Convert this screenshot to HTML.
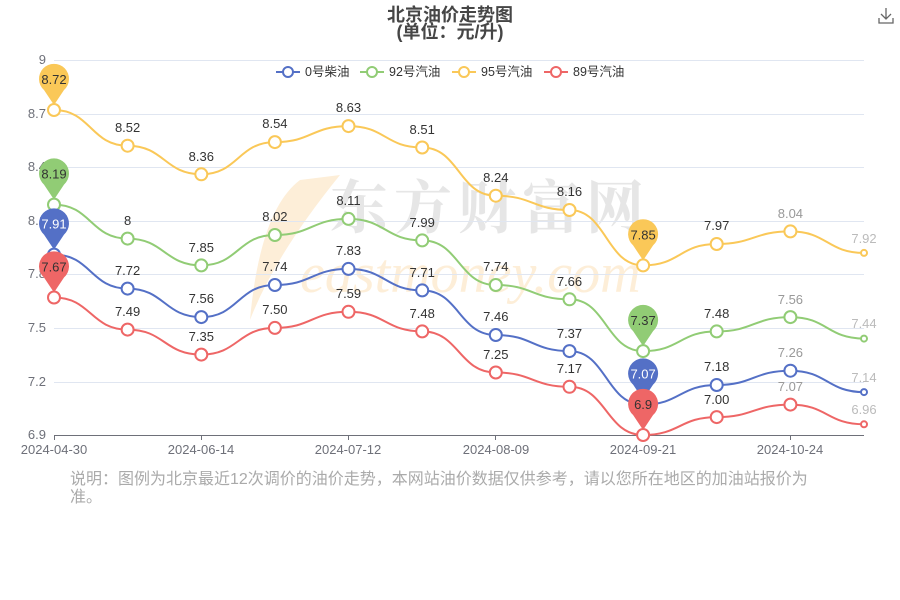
<!DOCTYPE html>
<html><head><meta charset="utf-8"><style>
html,body{margin:0;padding:0;background:#fff;}
svg{display:block;font-family:"Liberation Sans","Noto Sans CJK SC",sans-serif;}
</style></head><body>
<svg width="900" height="600" viewBox="0 0 900 600">
<!-- watermark -->
<text x="330" y="228" font-size="58" fill="#e6e6e6" font-weight="bold" font-family="'Noto Serif CJK SC',serif" letter-spacing="6">东方财富网</text>
<text x="300" y="292" font-size="56" fill="#fdeed8" font-style="italic" font-family="'Liberation Serif',serif">eastmoney.com</text>
<path d="M300,180 Q260,210 250,320 Q275,255 340,175 Z" fill="#fdeed8"/>

<text x="450" y="21" text-anchor="middle" font-size="18" font-weight="bold" fill="#464646">北京油价走势图</text>
<text x="450" y="38" text-anchor="middle" font-size="18" font-weight="bold" fill="#464646">(单位：元/升)</text>
<!-- download icon -->
<g stroke="#666" stroke-width="1.3" fill="none"><path d="M886,8 V19 M881,14 L886,19 L891,14 M879,18 V23 H893 V18"/></g>

<!-- grid -->
<g stroke="#e0e6f1" stroke-width="1">
<line x1="54" y1="60.5" x2="864" y2="60.5"/><line x1="54" y1="114.5" x2="864" y2="114.5"/>
<line x1="54" y1="167.5" x2="864" y2="167.5"/><line x1="54" y1="221.5" x2="864" y2="221.5"/>
<line x1="54" y1="274.5" x2="864" y2="274.5"/><line x1="54" y1="328.5" x2="864" y2="328.5"/>
<line x1="54" y1="382.5" x2="864" y2="382.5"/>
</g>
<line x1="54" y1="435.5" x2="864" y2="435.5" stroke="#6e7079"/>
<g stroke="#6e7079"><line x1="54.5" y1="435" x2="54.5" y2="440"/><line x1="201.5" y1="435" x2="201.5" y2="440"/><line x1="348.5" y1="435" x2="348.5" y2="440"/><line x1="495.5" y1="435" x2="495.5" y2="440"/><line x1="643.5" y1="435" x2="643.5" y2="440"/><line x1="790.5" y1="435" x2="790.5" y2="440"/></g>
<g font-size="13" fill="#6e7079" text-anchor="end">
<text x="46" y="64">9</text><text x="46" y="118">8.7</text><text x="46" y="171">8.4</text><text x="46" y="225">8.1</text><text x="46" y="278">7.8</text><text x="46" y="332">7.5</text><text x="46" y="386">7.2</text><text x="46" y="439">6.9</text>
</g>
<g font-size="13" fill="#6e7079" text-anchor="middle">
<text x="54" y="454">2024-04-30</text><text x="201" y="454">2024-06-14</text><text x="348" y="454">2024-07-12</text><text x="496" y="454">2024-08-09</text><text x="643" y="454">2024-09-21</text><text x="790" y="454">2024-10-24</text>
</g>

<!-- legend -->
<g font-size="12.5" fill="#333" stroke-width="2">
<line x1="276" y1="72" x2="300" y2="72" stroke="#5470c6"/><circle cx="288" cy="72" r="5" fill="#fff" stroke="#5470c6"/><text x="305" y="76" stroke="none">0号柴油</text>
<line x1="360" y1="72" x2="384" y2="72" stroke="#91cc75"/><circle cx="372" cy="72" r="5" fill="#fff" stroke="#91cc75"/><text x="389" y="76" stroke="none">92号汽油</text>
<line x1="452" y1="72" x2="476" y2="72" stroke="#fac858"/><circle cx="464" cy="72" r="5" fill="#fff" stroke="#fac858"/><text x="481" y="76" stroke="none">95号汽油</text>
<line x1="544" y1="72" x2="568" y2="72" stroke="#ee6666"/><circle cx="556" cy="72" r="5" fill="#fff" stroke="#ee6666"/><text x="573" y="76" stroke="none">89号汽油</text>
</g>

<g fill="none" stroke-width="2">
<path stroke="#fac858" d="M54,110 C90.8,110 90.8,145.7 127.6,145.7 C164.5,145.7 164.5,174.3 201.3,174.3 C238.1,174.3 238.1,142.1 274.9,142.1 C311.7,142.1 311.7,126.1 348.5,126.1 C385.4,126.1 385.4,147.5 422.2,147.5 C459,147.5 459,195.7 495.8,195.7 C532.7,195.7 532.7,210 569.5,210 C606.3,210 606.3,265.4 643.1,265.4 C679.9,265.4 679.9,244 716.7,244 C753.6,244 753.6,231.4 790.4,231.4 C827.2,231.4 827.2,252.9 864,252.9"/>
<path stroke="#91cc75" d="M54,204.6 C90.8,204.6 90.8,238.6 127.6,238.6 C164.5,238.6 164.5,265.4 201.3,265.4 C238.1,265.4 238.1,235 274.9,235 C311.7,235 311.7,218.9 348.5,218.9 C385.4,218.9 385.4,240.4 422.2,240.4 C459,240.4 459,285 495.8,285 C532.7,285 532.7,299.3 569.5,299.3 C606.3,299.3 606.3,351.1 643.1,351.1 C679.9,351.1 679.9,331.4 716.7,331.4 C753.6,331.4 753.6,317.1 790.4,317.1 C827.2,317.1 827.2,338.6 864,338.6"/>
<path stroke="#5470c6" d="M54,254.6 C90.8,254.6 90.8,288.6 127.6,288.6 C164.5,288.6 164.5,317.1 201.3,317.1 C238.1,317.1 238.1,285 274.9,285 C311.7,285 311.7,268.9 348.5,268.9 C385.4,268.9 385.4,290.4 422.2,290.4 C459,290.4 459,335 495.8,335 C532.7,335 532.7,351.1 569.5,351.1 C606.3,351.1 606.3,404.6 643.1,404.6 C679.9,404.6 679.9,385 716.7,385 C753.6,385 753.6,370.7 790.4,370.7 C827.2,370.7 827.2,392.1 864,392.1"/>
<path stroke="#ee6666" d="M54,297.5 C90.8,297.5 90.8,329.6 127.6,329.6 C164.5,329.6 164.5,354.6 201.3,354.6 C238.1,354.6 238.1,327.9 274.9,327.9 C311.7,327.9 311.7,311.8 348.5,311.8 C385.4,311.8 385.4,331.4 422.2,331.4 C459,331.4 459,372.5 495.8,372.5 C532.7,372.5 532.7,386.8 569.5,386.8 C606.3,386.8 606.3,435 643.1,435 C679.9,435 679.9,417.1 716.7,417.1 C753.6,417.1 753.6,404.6 790.4,404.6 C827.2,404.6 827.2,424.3 864,424.3"/>
</g>

<g fill="#fff" stroke-width="2">
<g stroke="#fac858"><circle cx="54" cy="110" r="6"/><circle cx="127.6" cy="145.7" r="6"/><circle cx="201.3" cy="174.3" r="6"/><circle cx="274.9" cy="142.1" r="6"/><circle cx="348.5" cy="126.1" r="6"/><circle cx="422.2" cy="147.5" r="6"/><circle cx="495.8" cy="195.7" r="6"/><circle cx="569.5" cy="210" r="6"/><circle cx="643.1" cy="265.4" r="6"/><circle cx="716.7" cy="244" r="6"/><circle cx="790.4" cy="231.4" r="6"/><circle cx="864" cy="252.9" r="3"/></g>
<g stroke="#91cc75"><circle cx="54" cy="204.6" r="6"/><circle cx="127.6" cy="238.6" r="6"/><circle cx="201.3" cy="265.4" r="6"/><circle cx="274.9" cy="235" r="6"/><circle cx="348.5" cy="218.9" r="6"/><circle cx="422.2" cy="240.4" r="6"/><circle cx="495.8" cy="285" r="6"/><circle cx="569.5" cy="299.3" r="6"/><circle cx="643.1" cy="351.1" r="6"/><circle cx="716.7" cy="331.4" r="6"/><circle cx="790.4" cy="317.1" r="6"/><circle cx="864" cy="338.6" r="3"/></g>
<g stroke="#5470c6"><circle cx="54" cy="254.6" r="6"/><circle cx="127.6" cy="288.6" r="6"/><circle cx="201.3" cy="317.1" r="6"/><circle cx="274.9" cy="285" r="6"/><circle cx="348.5" cy="268.9" r="6"/><circle cx="422.2" cy="290.4" r="6"/><circle cx="495.8" cy="335" r="6"/><circle cx="569.5" cy="351.1" r="6"/><circle cx="643.1" cy="404.6" r="6"/><circle cx="716.7" cy="385" r="6"/><circle cx="790.4" cy="370.7" r="6"/><circle cx="864" cy="392.1" r="3"/></g>
<g stroke="#ee6666"><circle cx="54" cy="297.5" r="6"/><circle cx="127.6" cy="329.6" r="6"/><circle cx="201.3" cy="354.6" r="6"/><circle cx="274.9" cy="327.9" r="6"/><circle cx="348.5" cy="311.8" r="6"/><circle cx="422.2" cy="331.4" r="6"/><circle cx="495.8" cy="372.5" r="6"/><circle cx="569.5" cy="386.8" r="6"/><circle cx="643.1" cy="435" r="6"/><circle cx="716.7" cy="417.1" r="6"/><circle cx="790.4" cy="404.6" r="6"/><circle cx="864" cy="424.3" r="3"/></g>
</g>

<g font-size="13" fill="#333" text-anchor="middle">
<text x="127.6" y="132">8.52</text><text x="201.3" y="161">8.36</text><text x="274.9" y="128">8.54</text><text x="348.5" y="112">8.63</text><text x="422.2" y="134">8.51</text><text x="495.8" y="182">8.24</text><text x="569.5" y="196">8.16</text><text x="716.7" y="230">7.97</text><text x="790.4" y="218" fill="#999">8.04</text>
<text x="127.6" y="225">8</text><text x="201.3" y="252">7.85</text><text x="274.9" y="221">8.02</text><text x="348.5" y="205">8.11</text><text x="422.2" y="227">7.99</text><text x="495.8" y="271">7.74</text><text x="569.5" y="286">7.66</text><text x="716.7" y="318">7.48</text><text x="790.4" y="304" fill="#999">7.56</text>
<text x="127.6" y="275">7.72</text><text x="201.3" y="303">7.56</text><text x="274.9" y="271">7.74</text><text x="348.5" y="255">7.83</text><text x="422.2" y="277">7.71</text><text x="495.8" y="321">7.46</text><text x="569.5" y="338">7.37</text><text x="716.7" y="371">7.18</text><text x="790.4" y="357" fill="#999">7.26</text>
<text x="127.6" y="316">7.49</text><text x="201.3" y="341">7.35</text><text x="274.9" y="314">7.50</text><text x="348.5" y="298">7.59</text><text x="422.2" y="318">7.48</text><text x="495.8" y="359">7.25</text><text x="569.5" y="373">7.17</text><text x="716.7" y="404">7.00</text><text x="790.4" y="391" fill="#999">7.07</text>
<g fill="#bbb"><text x="864" y="243">7.92</text><text x="864" y="328">7.44</text><text x="864" y="382">7.14</text><text x="864" y="414">6.96</text></g>
</g>

<!-- pins -->
<g font-size="13" text-anchor="middle">
<g transform="translate(54,110)"><path d="M0,-5 L-10,-20 A15,15 0 1,1 10,-20 Z" fill="#fac858"/><text y="-26" fill="#333">8.72</text></g>
<g transform="translate(54,204.6)"><path d="M0,-5 L-10,-20 A15,15 0 1,1 10,-20 Z" fill="#91cc75"/><text y="-26" fill="#333">8.19</text></g>
<g transform="translate(54,254.6)"><path d="M0,-5 L-10,-20 A15,15 0 1,1 10,-20 Z" fill="#5470c6"/><text y="-26" fill="#fff">7.91</text></g>
<g transform="translate(54,297.5)"><path d="M0,-5 L-10,-20 A15,15 0 1,1 10,-20 Z" fill="#ee6666"/><text y="-26" fill="#333">7.67</text></g>
<g transform="translate(643.1,265.4)"><path d="M0,-5 L-10,-20 A15,15 0 1,1 10,-20 Z" fill="#fac858"/><text y="-26" fill="#333">7.85</text></g>
<g transform="translate(643.1,351.1)"><path d="M0,-5 L-10,-20 A15,15 0 1,1 10,-20 Z" fill="#91cc75"/><text y="-26" fill="#333">7.37</text></g>
<g transform="translate(643.1,404.6)"><path d="M0,-5 L-10,-20 A15,15 0 1,1 10,-20 Z" fill="#5470c6"/><text y="-26" fill="#fff">7.07</text></g>
<g transform="translate(643.1,435)"><path d="M0,-5 L-10,-20 A15,15 0 1,1 10,-20 Z" fill="#ee6666"/><text y="-26" fill="#333">6.9</text></g>
</g>

<g font-size="16" fill="#aaa">
<text x="70" y="484">说明：图例为北京最近12次调价的油价走势，本网站油价数据仅供参考，请以您所在地区的加油站报价为</text>
<text x="70" y="502">准。</text>
</g>
</svg>
</body></html>
